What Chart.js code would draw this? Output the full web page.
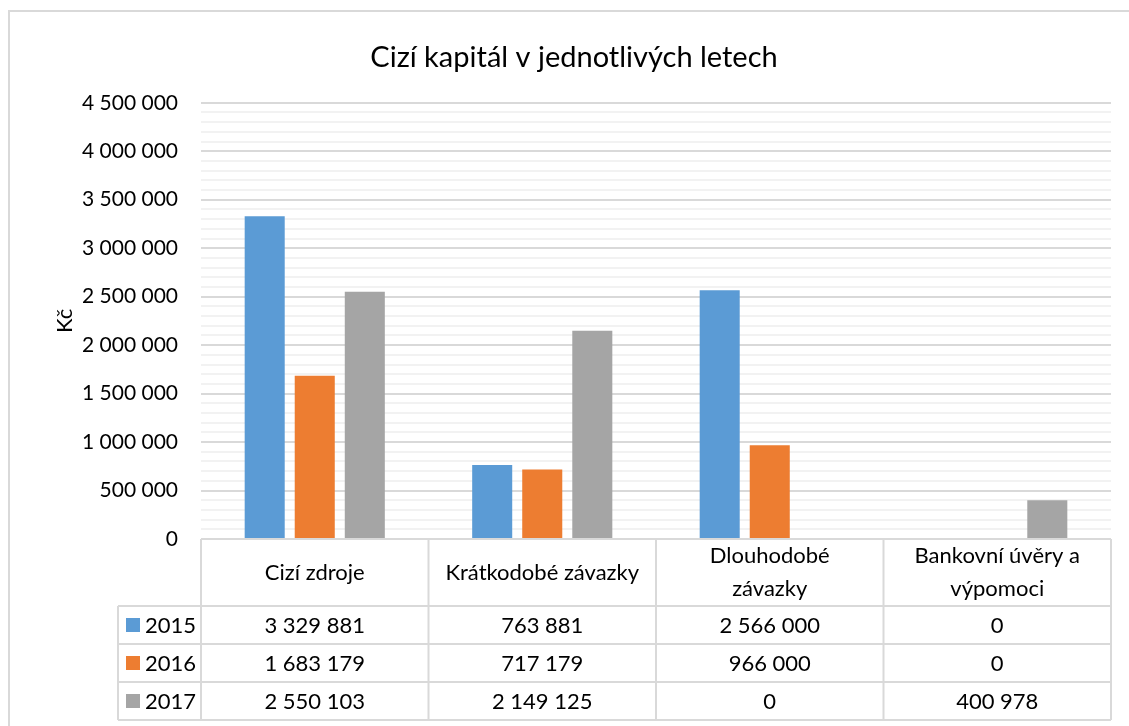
<!DOCTYPE html>
<html>
<head>
<meta charset="utf-8">
<script src="https://cdn.jsdelivr.net/npm/chart.js@4"></script>
<style>
  body { margin: 0; background: #fff; }
  #wrap { width: 1129px; height: 726px; }
</style>
</head>
<body>
<div id="wrap"><canvas id="chart"></canvas></div>
<script>
const categories = ['Cizí zdroje', 'Krátkodobé závazky', ['Dlouhodobé', 'závazky'], ['Bankovní úvěry a', 'výpomoci']];
const years = ['2015', '2016', '2017'];
const values2015 = [3329881, 763881, 2566000, 0];
const values2016 = [1683179, 717179, 966000, 0];
const values2017 = [2550103, 2149125, 0, 400978];
const colors = ['#5B9BD5', '#ED7D31', '#A5A5A5'];

const FONT = 'Lato, "Noto Sans", sans-serif';

function fmt(v) {
    return String(v).replace(/\B(?=(\d{3})+(?!\d))/g, ' ');
}

// draws the data table under the plot + outer frame
const tablePlugin = {
    id: 'dataTable',
    afterDraw(chart) {
        const ctx = chart.ctx;
        const x = chart.scales.x;
        const ca = chart.chartArea;
        const n = chart.data.labels.length;
        const colW = (x.right - x.left) / n;
        const headH = 67, rowH = 38;
        const top = ca.bottom;
        const rowsTop = top + headH;
        const legLeft = 118;
        ctx.save();
        ctx.strokeStyle = '#d9d9d9';
        ctx.lineWidth = 2;
        // outer frame
        ctx.strokeRect(9, 11, 1140, 740);
        ctx.beginPath();
        ctx.moveTo(x.left, top); ctx.lineTo(x.right, top);
        for (let i = 0; i <= n; i++) {
            const cx = x.left + i * colW;
            ctx.moveTo(cx, top); ctx.lineTo(cx, rowsTop + rowH * 3);
        }
        for (let r = 0; r <= 3; r++) {
            const y = rowsTop + r * rowH;
            ctx.moveTo(legLeft, y); ctx.lineTo(x.right, y);
        }
        ctx.moveTo(legLeft, rowsTop); ctx.lineTo(legLeft, rowsTop + rowH * 3);
        ctx.stroke();

        ctx.fillStyle = '#000';
        ctx.font = '22px ' + FONT;
        ctx.textAlign = 'center';
        ctx.textBaseline = 'middle';
        chart.data.labels.forEach((lab, i) => {
            const cx = x.getPixelForValue(i);
            const lines = Array.isArray(lab) ? lab : [lab];
            const lh = 33;
            const y0 = top + headH / 2 - (lines.length - 1) * lh / 2;
            lines.forEach((t, k) => ctx.fillText(t, cx, y0 + k * lh));
        });
        chart.data.datasets.forEach((ds, r) => {
            const y = rowsTop + r * rowH + rowH / 2;
            ctx.fillStyle = ds.backgroundColor;
            ctx.fillRect(126, y - 7, 14, 14);
            ctx.fillStyle = '#000';
            ctx.textAlign = 'left';
            ctx.fillText(ds.label, 145, y + 1);
            ctx.textAlign = 'center';
            ds.data.forEach((v, i) => ctx.fillText(fmt(v), x.getPixelForValue(i), y + 1));
        });
        ctx.restore();
    }
};

new Chart(document.getElementById('chart'), {
    type: 'bar',
    data: {
        labels: categories,
        datasets: [
            { label: years[0], data: values2015, backgroundColor: colors[0] },
            { label: years[1], data: values2016, backgroundColor: colors[1] },
            { label: years[2], data: values2017, backgroundColor: colors[2] }
        ]
    },
    options: {
        responsive: true,
        maintainAspectRatio: false,
        animation: false,
        datasets: {
            bar: { barPercentage: 0.8, categoryPercentage: 0.66 }
        },
        layout: { padding: { left: 37, right: 18, top: 0, bottom: 0 } },
        plugins: {
            legend: { display: false },
            tooltip: { enabled: false },
            title: {
                display: true,
                text: 'Cizí kapitál v jednotlivých letech',
                color: '#000',
                font: { family: FONT, size: 29, weight: 'normal' },
                padding: { top: 40, bottom: 28 }
            }
        },
        scales: {
            x: {
                ticks: { display: false },
                grid: { display: false },
                border: { display: false },
                afterFit: s => { s.height = 187; }
            },
            y: {
                min: 0,
                max: 4500000,
                border: { display: false },
                grid: {
                    drawTicks: false,
                    lineWidth: 2,
                    color: c => c.tick && c.tick.value % 500000 === 0 ? '#d9d9d9' : '#f2f2f2'
                },
                ticks: {
                    stepSize: 100000,
                    autoSkip: false,
                    padding: 23,
                    color: '#000',
                    font: { family: FONT, size: 21 },
                    callback: v => v % 500000 === 0 ? fmt(v) : ''
                },
                title: {
                    display: true,
                    text: 'Kč',
                    color: '#000',
                    font: { family: FONT, size: 22 },
                    padding: { top: 15, bottom: 0 }
                },
                afterFit: s => { s.width = 164; }
            }
        }
    },
    plugins: [tablePlugin]
});
</script>
</body>
</html>
